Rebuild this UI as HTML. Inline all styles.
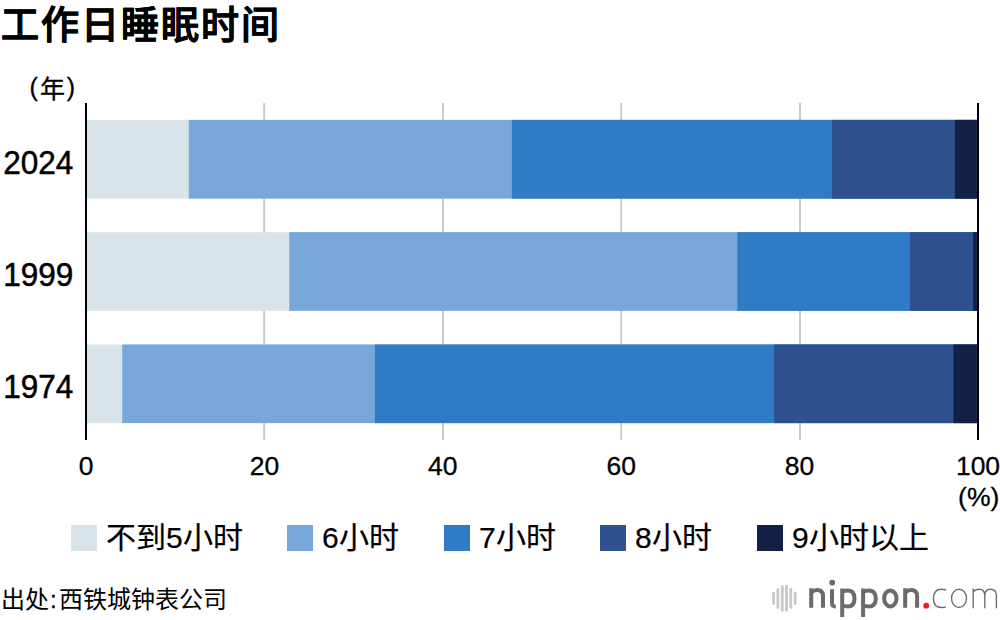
<!DOCTYPE html>
<html lang="zh-CN"><head><meta charset="utf-8">
<style>
html,body{margin:0;padding:0;background:#fff;width:1000px;height:620px;overflow:hidden;}
body{font-family:"Liberation Sans",sans-serif;color:#000;position:relative;}
.t{position:absolute;white-space:nowrap;line-height:1;}
#title{left:1px;top:6px;font-size:38px;font-weight:bold;letter-spacing:2px;-webkit-text-stroke:0.25px #000;}
#nian{left:29.5px;top:75px;font-size:25px;letter-spacing:2px;font-weight:500;-webkit-text-stroke:0.35px #000;}
.yr{font-size:32.5px;right:926.5px;text-align:right;transform:scaleX(0.97);transform-origin:100% 0;-webkit-text-stroke:0.5px #000;margin-top:1px;}
.xt{font-size:26.5px;top:453px;-webkit-text-stroke:0.3px #000;width:60px;margin-left:-30px;text-align:center;}
.lg{position:absolute;top:525px;width:26px;height:26px;}
.lt{font-size:30px;top:522.5px;font-weight:500;margin-left:-1px;-webkit-text-stroke:0.2px #000;}
#src{left:0.5px;top:588px;font-size:24px;font-weight:500;}
</style></head><body>
<svg width="1000" height="620" style="position:absolute;left:0;top:0">
  <!-- gridlines -->
  <g fill="#cccccc">
    <rect x="263.2" y="103" width="2" height="337"/>
    <rect x="442" y="103" width="2" height="337"/>
    <rect x="620.2" y="103" width="2" height="337"/>
    <rect x="799" y="103" width="2" height="337"/>
  </g>
  <!-- bars -->
  <g>
    <rect x="86" y="119.9" width="892.0" height="78.7" fill="#d8e4ea"/>
    <rect x="188.8" y="119.9" width="789.2" height="78.7" fill="#77a8d9"/>
    <rect x="511.9" y="119.9" width="466.1" height="78.7" fill="#2f7bc5"/>
    <rect x="831.9" y="119.9" width="146.1" height="78.7" fill="#2f518f"/>
    <rect x="954.9" y="119.9" width="23.1" height="78.7" fill="#112043"/>
  </g>
  <g>
    <rect x="86" y="232.2" width="892.0" height="78.6" fill="#d8e4ea"/>
    <rect x="289.3" y="232.2" width="688.7" height="78.6" fill="#77a8d9"/>
    <rect x="737.3" y="232.2" width="240.7" height="78.6" fill="#2f7bc5"/>
    <rect x="910.0" y="232.2" width="68.0" height="78.6" fill="#2f518f"/>
    <rect x="973.2" y="232.2" width="4.8" height="78.6" fill="#112043"/>
  </g>
  <g>
    <rect x="86" y="344.5" width="892.0" height="78.6" fill="#d8e4ea"/>
    <rect x="122.2" y="344.5" width="855.8" height="78.6" fill="#77a8d9"/>
    <rect x="374.9" y="344.5" width="603.1" height="78.6" fill="#2f7bc5"/>
    <rect x="774.0" y="344.5" width="204.0" height="78.6" fill="#2f518f"/>
    <rect x="953.5" y="344.5" width="24.5" height="78.6" fill="#112043"/>
  </g>
  <!-- axes -->
  <rect x="85" y="103" width="2" height="337" fill="#000"/>
  <rect x="977" y="103" width="2" height="337" fill="#000"/>
</svg>
<div class="t" id="title">工作日睡眠时间</div>
<div class="t" id="nian">(<span style="position:relative;top:2px">年</span>)</div>
<div class="t yr" style="top:146px">2024</div>
<div class="t yr" style="top:258px">1999</div>
<div class="t yr" style="top:370px">1974</div>
<div class="t xt" style="left:86px">0</div>
<div class="t xt" style="left:264.4px">20</div>
<div class="t xt" style="left:442.8px">40</div>
<div class="t xt" style="left:621.2px">60</div>
<div class="t xt" style="left:799.6px">80</div>
<div class="t xt" style="left:978px">100</div>
<div class="t xt" style="left:978.7px;top:483.5px">(%)</div>

<div class="lg" style="left:70.6px;background:#d8e4ea"></div>
<div class="t lt" style="left:107px">不到5小时</div>
<div class="lg" style="left:287px;background:#77a8d9"></div>
<div class="t lt" style="left:323px">6小时</div>
<div class="lg" style="left:443.5px;background:#2f7bc5"></div>
<div class="t lt" style="left:480px">7小时</div>
<div class="lg" style="left:600.2px;background:#2f518f"></div>
<div class="t lt" style="left:636px">8小时</div>
<div class="lg" style="left:756.9px;background:#112043"></div>
<div class="t lt" style="left:793px">9小时以上</div>

<div class="t" id="src">出处<span style="margin:0 2.6px 0 1.6px;-webkit-text-stroke:0.3px #000">:</span>西铁城钟表公司</div>

<!-- logo -->
<svg width="1000" height="620" style="position:absolute;left:0;top:0" viewBox="0 0 1000 620">
  <g stroke="#c8c8c8" stroke-width="2.8" stroke-linecap="round" fill="none">
    <line x1="773.6" y1="593.1" x2="773.6" y2="603.6"/>
    <line x1="777.9" y1="589.4" x2="777.9" y2="607.4"/>
    <line x1="782.3" y1="586.5" x2="782.3" y2="610.3"/>
    <line x1="786.5" y1="586.5" x2="786.5" y2="610.3"/>
    <line x1="790.8" y1="589.4" x2="790.8" y2="607.4"/>
    <line x1="795.2" y1="593.1" x2="795.2" y2="603.6"/>
  </g>
  <g stroke="#6b6b6b" stroke-width="4" fill="none">
    <path d="M811.2,607.7 V588.3 M811.2,595 C811.2,591.5 814,590 817,590 C821,590 823,592 823,596 V607.7"/>
    <path d="M832,589.2 V603 C832,605.8 833.2,606.5 835.8,606.4"/>
    <path d="M842.2,617.1 V588.6 M842.2,592.2 C843.5,590.8 845.5,590.4 848,590.4 C852.5,590.4 854.5,593.5 854.5,598.4 C854.5,603.5 852,606.4 847.5,606.4 C845.5,606.4 843.5,606 842.2,605"/>
    <path d="M863.1,617.1 V588.6 M863.1,592.2 C864.4,590.8 866.4,590.4 868.9,590.4 C873.4,590.4 875.8,593.5 875.8,598.4 C875.8,603.5 873.2,606.4 868.4,606.4 C866.4,606.4 864.4,606 863.1,605"/>
    <ellipse cx="890.3" cy="598.4" rx="6.2" ry="8"/>
    <path d="M905.2,607.7 V588.3 M905.2,595 C905.2,591.5 908,590 911,590 C915,590 917.1,592 917.1,596 V607.7"/>
  </g>
  <circle cx="832.2" cy="582.6" r="2.9" fill="#6b6b6b"/>
  <circle cx="926.2" cy="605.7" r="2.9" fill="#ee1c25"/>
  <g stroke="#6e6e6e" stroke-width="1.4" fill="none">
    <path d="M946,590 C944.5,589.4 943,589.2 941.5,589.2 C936,589.2 933.5,592.5 933.5,598.4 C933.5,604.5 936,607.5 941.5,607.5 C943,607.5 944.5,607.3 946,606.8"/>
    <ellipse cx="959" cy="598.35" rx="7.5" ry="9.15"/>
    <path d="M973.2,608.2 V588.6 M973.2,592 C974.5,590 976.5,589.2 979,589.2 C983,589.2 984.8,591.5 984.8,595.5 V608.2 M984.8,595.5 C984.8,591.5 987,589.2 990.5,589.2 C994.5,589.2 996.4,591.5 996.4,595.5 V608.2"/>
  </g>
</svg>
</body></html>
